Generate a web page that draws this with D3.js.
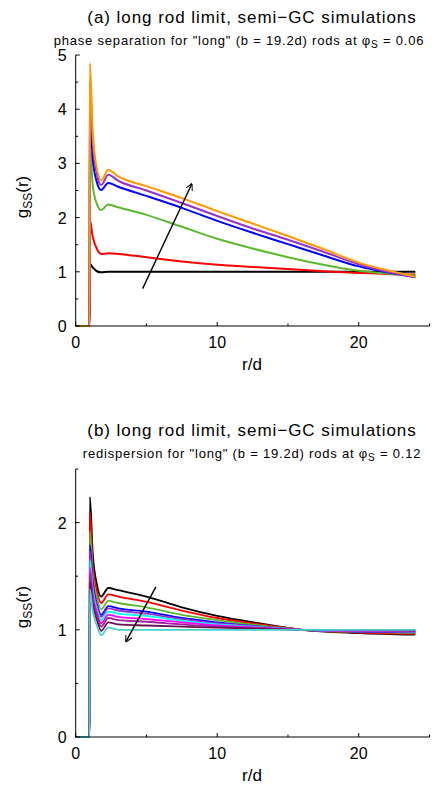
<!DOCTYPE html>
<html>
<head>
<meta charset="utf-8">
<script src="https://cdn.jsdelivr.net/npm/d3@7"></script>
<style>
  body { margin: 0; background: #fff; }
  text { font-family: "Liberation Sans", Arial, sans-serif; fill: #000; }
</style>
</head>
<body>
<svg id="chart" width="446" height="788"></svg>
<script>
// panel (a): phase separation, phi_s = 0.06
var rA = [0, 0.98, 1.0, 1.2, 1.5, 1.8, 2.3, 3, 5, 7.5, 10, 12.5, 15, 17.5, 20, 22, 24];
var gA_black  = [0, 0, 1.15, 1.08, 1.01, 0.99, 1.0, 1.0, 1.0, 1.0, 1.0, 1.0, 1.0, 1.0, 1.0, 1.0, 1.0];
var gA_red    = [0, 0, 1.96, 1.65, 1.42, 1.33, 1.34, 1.33, 1.27, 1.19, 1.13, 1.09, 1.05, 1.01, 0.98, 0.96, 0.95];
var gA_green  = [0, 0, 3.4, 2.6, 2.25, 2.14, 2.24, 2.19, 2.05, 1.83, 1.61, 1.43, 1.27, 1.13, 1.02, 0.97, 0.93];
var gA_blue   = [0, 0, 4.0, 3.1, 2.65, 2.51, 2.64, 2.57, 2.4, 2.18, 1.94, 1.72, 1.51, 1.3, 1.1, 0.99, 0.9];
var gA_purple = [0, 0, 4.5, 3.4, 2.8, 2.6, 2.79, 2.68, 2.5, 2.27, 2.03, 1.8, 1.59, 1.37, 1.14, 1.0, 0.91];
var gA_orange = [0, 0, 4.85, 3.6, 2.9, 2.69, 2.88, 2.76, 2.58, 2.36, 2.12, 1.89, 1.66, 1.42, 1.17, 1.03, 0.91];
var colorsA = ["#000000", "#ff0000", "#5cb82e", "#0000ff", "#9932cc", "#ff9900"];
var arrowA = [[4.73, 0.69], [8.2, 2.62]];

// panel (b): redispersion, phi_s = 0.12
var rB = [0, 0.98, 1.0, 1.2, 1.5, 1.8, 2.3, 3, 5, 7.5, 10, 13, 16, 20, 24];
var gB_black   = [0, 0, 2.24, 1.72, 1.42, 1.31, 1.39, 1.37, 1.31, 1.21, 1.13, 1.06, 1.0, 0.97, 0.955];
var gB_red     = [0, 0, 2.10, 1.62, 1.36, 1.25, 1.33, 1.31, 1.26, 1.18, 1.11, 1.05, 1.0, 0.975, 0.962];
var gB_green   = [0, 0, 1.92, 1.52, 1.30, 1.19, 1.27, 1.25, 1.21, 1.14, 1.09, 1.04, 1.0, 0.98, 0.97];
var gB_blue    = [0, 0, 1.79, 1.45, 1.24, 1.14, 1.22, 1.20, 1.17, 1.11, 1.07, 1.03, 1.0, 0.984, 0.976];
var gB_purple  = [0, 0, 1.73, 1.41, 1.22, 1.12, 1.20, 1.18, 1.15, 1.10, 1.06, 1.03, 1.0, 0.986, 0.978];
var gB_cyan    = [0, 0, 1.65, 1.37, 1.19, 1.09, 1.17, 1.15, 1.13, 1.085, 1.05, 1.025, 1.0, 0.99, 0.985];
var gB_magenta = [0, 0, 1.58, 1.33, 1.16, 1.06, 1.14, 1.12, 1.10, 1.07, 1.04, 1.02, 1.0, 0.99, 0.99];
var gB_violet  = [0, 0, 1.53, 1.29, 1.13, 1.03, 1.11, 1.09, 1.075, 1.05, 1.03, 1.015, 1.0, 0.995, 0.99];
var gB_maroon  = [0, 0, 1.45, 1.24, 1.09, 0.99, 1.07, 1.05, 1.04, 1.03, 1.02, 1.01, 1.0, 1.0, 0.995];
var gB_turq    = [0, 0, 1.38, 1.18, 1.04, 0.95, 1.02, 1.0, 1.0, 1.0, 1.0, 1.0, 1.0, 1.0, 1.0];
var colorsB = ["#000000", "#ff0000", "#5cb82e", "#0000ff", "#9932cc", "#00ffff", "#ff00ff", "#a020a0", "#6b1050", "#48d1cc"];
var arrowB = [[5.67, 1.40], [3.55, 0.89]];

var xTicks = [0, 10, 20];
var xMinor = [5, 15, 25];

var svg = d3.select("#chart");

svg.append("defs").append("marker")
    .attr("id", "head")
    .attr("viewBox", "0 0 10 10")
    .attr("refX", 9).attr("refY", 5)
    .attr("markerWidth", 7).attr("markerHeight", 7)
    .attr("markerUnits", "userSpaceOnUse")
    .attr("orient", "auto")
  .append("path")
    .attr("d", "M0,0 L10,5 L0,10")
    .attr("fill", "none")
    .attr("stroke", "#000")
    .attr("stroke-width", 1.4);

function panel(opt) {
  var g = svg.append("g");
  var x = d3.scaleLinear().domain([0, 25]).range([75.7, 429.5]);
  var y = d3.scaleLinear().domain([0, opt.ymax]).range([opt.y0, opt.ytop]);

  // titles
  g.append("text").attr("x", 252).attr("y", opt.y0 - 303 + opt.titleShift)
    .attr("text-anchor", "middle").style("font-size", "17px")
    .style("letter-spacing", "0.95px").text(opt.title);
  var st = g.append("text").attr("x", opt.subX).attr("y", opt.y0 - 281 + opt.titleShift)
    .attr("text-anchor", "middle").style("font-size", "13px")
    .style("letter-spacing", "0.8px");
  st.append("tspan").text(opt.sub + "\u03c6");
  st.append("tspan").attr("dy", 3).style("font-size", "10px").text("S");
  st.append("tspan").attr("dy", -3).text(" = " + opt.phi);

  // curves
  var line = d3.line()
    .x(function(d) { return x(d[0]); })
    .y(function(d) { return y(d[1]); })
    .curve(d3.curveMonotoneX);
  opt.series.forEach(function(s, i) {
    var pts = opt.r.map(function(r, j) { return [r, s[j]]; });
    g.append("path").attr("d", line(pts))
      .attr("fill", "none").attr("stroke", opt.colors[i])
      .attr("stroke-width", opt.lw).attr("stroke-linejoin", "round");
  });

  // axes
  var xa = g.append("g").attr("transform", "translate(0," + opt.y0 + ")");
  xa.append("line").attr("x1", x(0)).attr("x2", x(25)).attr("stroke", "#000");
  xa.selectAll(".mj").data(xTicks).enter().append("line")
    .attr("x1", x).attr("x2", x).attr("y1", 0).attr("y2", -4).attr("stroke", "#000");
  xa.selectAll(".mn").data(xMinor).enter().append("line")
    .attr("x1", x).attr("x2", x).attr("y1", 0).attr("y2", -2.5).attr("stroke", "#000");
  xa.selectAll(".lb").data(xTicks).enter().append("text")
    .attr("x", x).attr("y", 22).attr("text-anchor", "middle")
    .style("font-size", "16px").text(function(d) { return d; });

  var ya = g.append("g").attr("transform", "translate(" + x(0) + ",0)");
  ya.append("line").attr("y1", y(0)).attr("y2", y(opt.ymax)).attr("stroke", "#000");
  ya.selectAll(".mj").data(opt.yTicks).enter().append("line")
    .attr("y1", y).attr("y2", y).attr("x1", 0).attr("x2", 4).attr("stroke", "#000");
  ya.selectAll(".mn").data(opt.yMinor).enter().append("line")
    .attr("y1", y).attr("y2", y).attr("x1", 0).attr("x2", 2.5).attr("stroke", "#000");
  ya.selectAll(".lb").data(opt.yTicks).enter().append("text")
    .attr("x", -9).attr("y", function(d) { return y(d) + 6; })
    .attr("text-anchor", "end").style("font-size", "16px").text(function(d) { return d; });

  // axis labels
  g.append("text").attr("x", 252).attr("y", opt.y0 + 44)
    .attr("text-anchor", "middle").style("font-size", "17px").text("r/d");
  var yl = g.append("text")
    .attr("transform", "translate(28," + opt.ylabY + ") rotate(-90)")
    .attr("text-anchor", "middle").style("font-size", "17px");
  yl.append("tspan").text("g");
  yl.append("tspan").attr("dy", 4).style("font-size", "12px").text("SS");
  yl.append("tspan").attr("dy", -4).text("(r)");

  // arrow
  g.append("line")
    .attr("x1", x(opt.arrow[0][0])).attr("y1", y(opt.arrow[0][1]))
    .attr("x2", x(opt.arrow[1][0])).attr("y2", y(opt.arrow[1][1]))
    .attr("stroke", "#000").attr("stroke-width", 1.4)
    .attr("marker-end", "url(#head)");
}

panel({
  y0: 326, ytop: 55, ymax: 5, titleShift: 0,
  title: "(a) long rod limit, semi\u2212GC simulations",
  sub: "phase separation for \"long\" (b = 19.2d) rods at ", phi: "0.06", subX: 239,
  r: rA, series: [gA_black, gA_red, gA_green, gA_blue, gA_purple, gA_orange],
  colors: colorsA, lw: 2,
  yTicks: [0, 1, 2, 3, 4, 5], yMinor: [0.5, 1.5, 2.5, 3.5, 4.5],
  ylabY: 197, arrow: arrowA
});

panel({
  y0: 737, ytop: 469, ymax: 2.5, titleShift: 2,
  title: "(b) long rod limit, semi\u2212GC simulations",
  sub: "redispersion for \"long\" (b = 19.2d) rods at ", phi: "0.12", subX: 252,
  r: rB, series: [gB_black, gB_red, gB_green, gB_blue, gB_purple, gB_cyan, gB_magenta, gB_violet, gB_maroon, gB_turq],
  colors: colorsB, lw: 1.8,
  yTicks: [0, 1, 2], yMinor: [0.5, 1.5, 2.5],
  ylabY: 607, arrow: arrowB
});
</script>
</body>
</html>
